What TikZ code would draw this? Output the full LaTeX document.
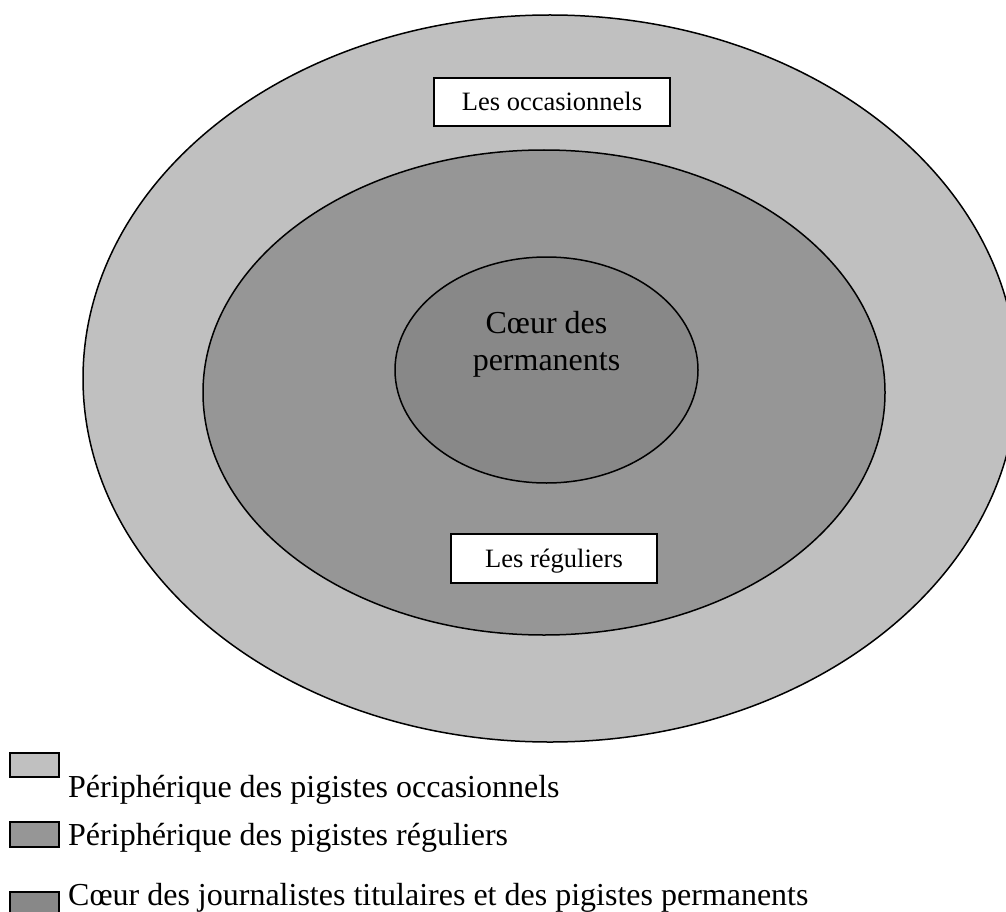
\documentclass[tikz,border=0pt]{standalone}
\usepackage{fontspec}
\setmainfont{Liberation Serif}
\definecolor{ringout}{gray}{0.753}
\definecolor{ringmid}{gray}{0.59}
\definecolor{ringin}{gray}{0.535}
\tikzset{
  ring/.style={draw=black, line width=1.5pt},
  labelbox/.style={draw=black, line width=1.2pt, fill=white, inner sep=0pt,
    font=\fontsize{26.5}{30}\selectfont, text height=18pt, text depth=0pt},
  legbox/.style={draw=black, line width=1.5pt},
  legtext/.style={anchor=base west, inner sep=0pt, font=\fontsize{32}{37}\selectfont},
}
\begin{document}
\begin{tikzpicture}[x=1pt,y=-1pt]
\useasboundingbox (0,0) rectangle (1006,912);
\begin{scope}
\clip (0,0) rectangle (1006,912);
\draw[ring, fill=ringout] (550,378.5) ellipse [x radius=467, y radius=363.5];
\draw[ring, fill=ringmid] (544,392.5) ellipse [x radius=341, y radius=242.5];
\draw[ring, fill=ringin] (546.5,370) ellipse [x radius=151.5, y radius=113];
\end{scope}
\node[anchor=base, inner sep=0pt, align=center, font=\fontsize{32}{37}\selectfont] (coeur) at (546.5,370) {Cœur des\\permanents};
\node[labelbox, minimum width=236pt, minimum height=48pt] (occ) at (552,102) {Les occasionnels};
\node[labelbox, minimum width=206pt, minimum height=49pt] (reg) at (554,558.5) {Les réguliers};
% legend
\begin{scope}
\clip (0,0) rectangle (1006,912);
\draw[legbox, fill=ringout] (10,753) rectangle (59,777);
\draw[legbox, fill=ringmid] (10,822) rectangle (59,847);
\draw[legbox, fill=ringin] (10,892) rectangle (59,918);
\end{scope}
\node[legtext] (l1) at (68,797) {Périphérique des pigistes occasionnels};
\node[legtext] (l2) at (68,845) {Périphérique des pigistes réguliers};
\node[legtext] (l3) at (68,905) {Cœur des journalistes titulaires et des pigistes permanents};
\end{tikzpicture}
\end{document}
